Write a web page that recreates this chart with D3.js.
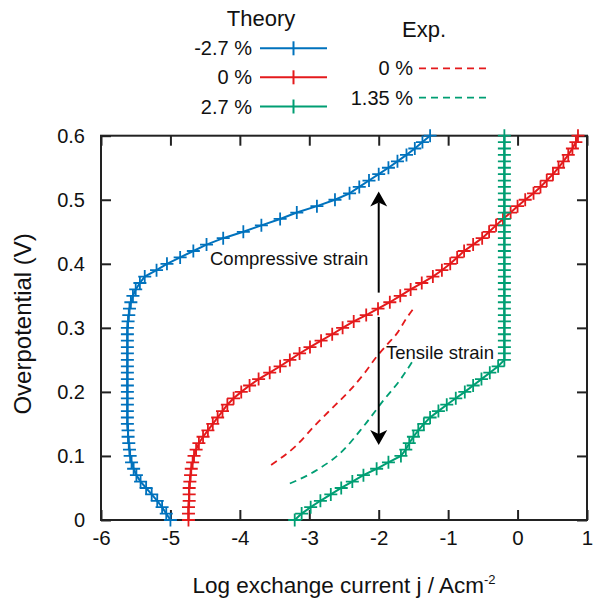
<!DOCTYPE html>
<html>
<head>
<meta charset="utf-8">
<script src="https://cdn.jsdelivr.net/npm/d3@7"></script>
<style>
  html, body { margin: 0; padding: 0; background: #fff; }
  svg { display: block; font-family: "Liberation Sans", Arial, sans-serif; }
</style>
</head>
<body>
<svg id="chart" width="593" height="603"></svg>
<script>
// ---------------- DATA ----------------
const overpotential = [0.00,0.01,0.02,0.03,0.04,0.05,0.06,0.07,0.08,0.09,
  0.10,0.11,0.12,0.13,0.14,0.15,0.16,0.17,0.18,0.19,
  0.20,0.21,0.22,0.23,0.24,0.25,0.26,0.27,0.28,0.29,
  0.30,0.31,0.32,0.33,0.34,0.35,0.36,0.37,0.38,0.39,
  0.40,0.41,0.42,0.43,0.44,0.45,0.46,0.47,0.48,0.49,
  0.50,0.51,0.52,0.53,0.54,0.55,0.56,0.57,0.58,0.59,0.60];

// Theory, -2.7 % strain (log j)
const theoryNeg27 = [-5.00,-5.06,-5.12,-5.19,-5.27,-5.35,-5.43,-5.49,-5.53,-5.56,
  -5.58,-5.59,-5.60,-5.61,-5.61,-5.62,-5.62,-5.62,-5.62,-5.62,
  -5.62,-5.62,-5.62,-5.62,-5.62,-5.62,-5.62,-5.62,-5.62,-5.62,
  -5.62,-5.61,-5.60,-5.59,-5.57,-5.54,-5.50,-5.44,-5.37,-5.20,
  -5.05,-4.86,-4.67,-4.48,-4.24,-3.95,-3.69,-3.42,-3.18,-2.89,
  -2.63,-2.42,-2.28,-2.14,-2.00,-1.86,-1.73,-1.60,-1.48,-1.37,-1.26];

// Theory, 0 % strain
const theory0 = [-4.74,-4.74,-4.74,-4.73,-4.73,-4.73,-4.72,-4.71,-4.70,-4.68,
  -4.66,-4.63,-4.59,-4.53,-4.46,-4.39,-4.32,-4.25,-4.18,-4.09,
  -3.98,-3.86,-3.73,-3.57,-3.42,-3.28,-3.14,-2.99,-2.83,-2.67,
  -2.52,-2.36,-2.18,-2.01,-1.84,-1.69,-1.54,-1.38,-1.22,-1.09,
  -0.97,-0.87,-0.77,-0.64,-0.51,-0.41,-0.31,-0.21,-0.10,0.00,
  0.11,0.23,0.33,0.42,0.51,0.59,0.66,0.73,0.79,0.84,0.87];

// Theory, 2.7 % strain
const theoryPos27 = [-3.21,-3.11,-2.98,-2.84,-2.69,-2.54,-2.38,-2.22,-2.03,-1.86,
  -1.68,-1.61,-1.56,-1.50,-1.43,-1.35,-1.26,-1.14,-1.02,-0.89,
  -0.76,-0.64,-0.52,-0.40,-0.28,-0.19,-0.19,-0.19,-0.19,-0.19,
  -0.19,-0.19,-0.19,-0.19,-0.19,-0.19,-0.19,-0.19,-0.19,-0.19,
  -0.19,-0.19,-0.19,-0.19,-0.19,-0.19,-0.19,-0.19,-0.19,-0.19,
  -0.19,-0.19,-0.19,-0.19,-0.19,-0.19,-0.19,-0.19,-0.19,-0.19,-0.19];

// Experiment, 0 % strain
const exp0LogJ = [-3.55,-3.20,-2.89,-2.62,-2.41,-2.20,-2.03,-1.87,-1.74,-1.60,-1.50];
const exp0V    = [0.086,0.115,0.151,0.180,0.203,0.230,0.255,0.275,0.291,0.315,0.330];

// Experiment, 1.35 % strain
const exp135LogJ = [-3.28,-2.89,-2.51,-2.22,-1.93,-1.69,-1.50];
const exp135V    = [0.057,0.078,0.109,0.146,0.187,0.219,0.250];

const xTicks = [-6,-5,-4,-3,-2,-1,0,1];
const xTickLabels = ["-6","-5","-4","-3","-2","-1","0","1"];
const yTicks = [0,0.1,0.2,0.3,0.4,0.5,0.6];
const yTickLabels = ["0","0.1","0.2","0.3","0.4","0.5","0.6"];

const theoryLabels = ["-2.7 %","0 %","2.7 %"];
const expLabels = ["0 %","1.35 %"];
const colors = { blue: "#0072BD", red: "#E41A1C", green: "#009E73" };

// ---------------- CHART ----------------
const svg = d3.select("#chart");
const x = d3.scaleLinear().domain([-6, 1]).range([101, 587]);
const y = d3.scaleLinear().domain([0, 0.6]).range([520, 135.7]);

// axes
const gB = svg.append("g").attr("transform", `translate(0,${y(0)})`)
  .call(d3.axisBottom(x).tickValues(xTicks).tickFormat((d,i) => xTickLabels[i]).tickSize(-10).tickSizeOuter(0).tickPadding(10));
const gT = svg.append("g").attr("transform", `translate(0,${y(0.6)})`)
  .call(d3.axisTop(x).tickValues(xTicks).tickFormat("").tickSize(-10).tickSizeOuter(0));
const gL = svg.append("g").attr("transform", `translate(${x(-6)},0)`)
  .call(d3.axisLeft(y).tickValues(yTicks).tickFormat((d,i) => yTickLabels[i]).tickSize(-10).tickSizeOuter(0).tickPadding(16));
const gR = svg.append("g").attr("transform", `translate(${x(1)},0)`)
  .call(d3.axisRight(y).tickValues(yTicks).tickFormat("").tickSize(-10).tickSizeOuter(0));

[gB, gT, gL, gR].forEach(g => {
  g.select(".domain").remove();
  g.selectAll(".tick line").attr("stroke", "#222").attr("stroke-width", 2);
  g.selectAll("text").attr("fill", "#111")
    .style("font-family", '"Liberation Sans", Arial, sans-serif');
});
gB.selectAll("text").style("font-size", "20.5px");
gL.selectAll("text").style("font-size", "20px");

// frame
svg.append("rect")
  .attr("x", x(-6)).attr("y", y(0.6))
  .attr("width", x(1) - x(-6)).attr("height", y(0) - y(0.6))
  .attr("fill", "none").attr("stroke", "#222").attr("stroke-width", 2);

const plot = svg.append("g");
const line = d3.line().x(d => x(d[0])).y(d => y(d[1]));
const ms = 6.5;

function theorySeries(vals, color) {
  const pts = vals.map((v, i) => [v, overpotential[i]]);
  plot.append("path").datum(pts).attr("d", line)
    .attr("fill", "none").attr("stroke", color).attr("stroke-width", 2);
  plot.append("g").selectAll("path").data(pts).join("path")
    .attr("d", d => `M${x(d[0]) - ms},${y(d[1])}h${2 * ms}M${x(d[0])},${y(d[1]) - ms}v${2 * ms}`)
    .attr("stroke", color).attr("stroke-width", 1.8).attr("fill", "none");
}
theorySeries(theoryNeg27, colors.blue);
theorySeries(theory0, colors.red);
theorySeries(theoryPos27, colors.green);

const smooth = d3.line().x(d => x(d[0])).y(d => y(d[1])).curve(d3.curveMonotoneX);
function expSeries(xs, ys, color) {
  const pts = xs.map((v, i) => [v, ys[i]]);
  plot.append("path").datum(pts).attr("d", smooth)
    .attr("fill", "none").attr("stroke", color).attr("stroke-width", 1.8)
    .attr("stroke-dasharray", "7,5");
}
expSeries(exp0LogJ, exp0V, colors.red);
expSeries(exp135LogJ, exp135V, colors.green);

// arrows
function arrow(x0, v0, v1) {
  const px = x(x0), y0 = y(v0), y1 = y(v1);
  const dir = y1 < y0 ? 1 : -1; // 1 = pointing up
  const headL = 15, headW = 8.5, notch = 4;
  svg.append("line").attr("x1", px).attr("x2", px)
    .attr("y1", y0).attr("y2", y1 + dir * (headL - notch))
    .attr("stroke", "#000").attr("stroke-width", 2);
  svg.append("path")
    .attr("d", `M${px},${y1} L${px - headW},${y1 + dir * headL} L${px},${y1 + dir * (headL - notch)} L${px + headW},${y1 + dir * headL} Z`)
    .attr("fill", "#000");
}
arrow(-2, 0.355, 0.513);
arrow(-2, 0.317, 0.117);

const annFont = 18.5;
svg.append("text").attr("x", 210).attr("y", 265).text("Compressive strain")
  .style("font-size", annFont + "px").attr("fill", "#111");
svg.append("text").attr("x", 386).attr("y", 359).text("Tensile strain")
  .style("font-size", annFont + "px").attr("fill", "#111");

// axis titles
const xt = svg.append("text").attr("x", 344).attr("y", 593).attr("text-anchor", "middle")
  .style("font-size", "22.5px").attr("fill", "#111");
xt.append("tspan").text("Log exchange current j / Acm");
xt.append("tspan").text("-2").attr("dy", -9).style("font-size", "13px");

svg.append("text").attr("transform", `translate(31,${(y(0) + y(0.6)) / 2 - 4}) rotate(-90)`)
  .attr("text-anchor", "middle").style("font-size", "24px").attr("fill", "#111")
  .text("Overpotential (V)");

// legend
const legFont = 20;
svg.append("text").attr("x", 261).attr("y", 26).attr("text-anchor", "middle")
  .style("font-size", "22px").attr("fill", "#111").text("Theory");
const theoryColors = [colors.blue, colors.red, colors.green];
const legYs = [48.3, 77.3, 106.5];
theoryLabels.forEach((lab, i) => {
  const ly = legYs[i];
  svg.append("text").attr("x", 252).attr("y", ly + 7).attr("text-anchor", "end")
    .style("font-size", legFont + "px").attr("fill", "#111").text(lab);
  svg.append("line").attr("x1", 260).attr("x2", 327).attr("y1", ly).attr("y2", ly)
    .attr("stroke", theoryColors[i]).attr("stroke-width", 2);
  svg.append("line").attr("x1", 293.5).attr("x2", 293.5).attr("y1", ly - 7).attr("y2", ly + 7)
    .attr("stroke", theoryColors[i]).attr("stroke-width", 2);
});
svg.append("text").attr("x", 424).attr("y", 37).attr("text-anchor", "middle")
  .style("font-size", "22px").attr("fill", "#111").text("Exp.");
const expColors = [colors.red, colors.green];
const expYs = [68.3, 97.7];
expLabels.forEach((lab, i) => {
  const ly = expYs[i];
  svg.append("text").attr("x", 413).attr("y", ly + 7).attr("text-anchor", "end")
    .style("font-size", legFont + "px").attr("fill", "#111").text(lab);
  svg.append("line").attr("x1", 419).attr("x2", 486).attr("y1", ly).attr("y2", ly)
    .attr("stroke", expColors[i]).attr("stroke-width", 1.8).attr("stroke-dasharray", "7,5");
});
</script>
</body>
</html>
